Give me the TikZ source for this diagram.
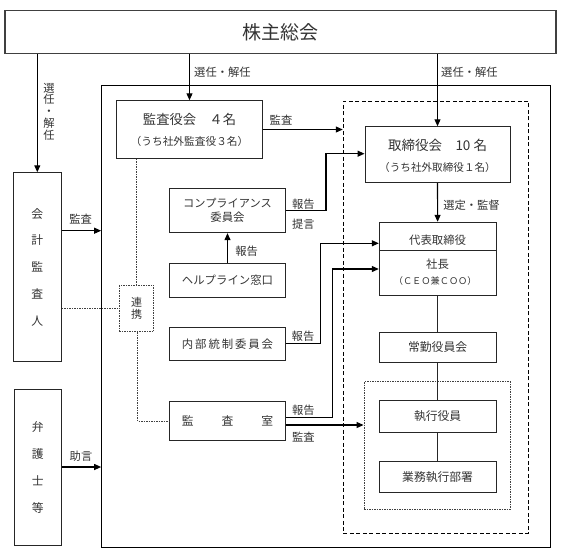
\documentclass[tikz,border=0pt]{standalone}
\usepackage{fontspec}
\setmainfont{Noto Sans CJK JP}
\usetikzlibrary{arrows.meta}
\begin{document}
\begin{tikzpicture}[x=1pt,y=-1pt,
  box/.style={draw=black!85, line width=0.9pt, inner sep=0pt, text=black!80},
  txt/.style={inner sep=0pt, text=black!80},
  lab/.style={inner sep=0pt, text=black!80, font=\fontsize{11.3}{12}\selectfont},
  arr/.style={draw=black, line width=1.1pt, -{Triangle[length=7pt,width=6pt]}},
  plain/.style={draw=black!85, line width=0.9pt},
  dashbox/.style={draw=black, line width=1.1pt, dash pattern=on 4pt off 2.5pt},
  dotline/.style={draw=black!75, line width=0.9pt, dash pattern=on 1.5pt off 1pt},
  f11/.style={font=\fontsize{11.4}{12}\selectfont},
  f12/.style={font=\fontsize{11.8}{12}\selectfont}]
\useasboundingbox (0,0) rectangle (561,549);

% boxes
\node[box, line width=1.5pt, draw=black!75, minimum width=551pt, minimum height=42.6pt,
  font=\fontsize{19}{20}\selectfont] (top) at (280.5,32) {株主総会};
\node[box, minimum width=48pt, minimum height=189pt, align=center,
  font=\fontsize{11.8}{26.8}\selectfont] (kaikei) at (37.3,267.2) {会\\計\\監\\査\\人};
\node[box, minimum width=47.3pt, minimum height=156pt, align=center,
  font=\fontsize{11.8}{27}\selectfont] (bengo) at (37.7,467) {弁\\護\\士\\等};
\node[box, line width=1.1pt, draw=black, minimum width=449pt, minimum height=461.6pt] (outer) at (326.2,316.5) {};
\node[box, minimum width=145.6pt, minimum height=57.6pt] (kansayaku) at (189.5,129.5) {};
\node[txt, font=\fontsize{13.3}{14}\selectfont] (kansayakuA) at (189.5,119.3) {監査役会　４名};
\node[txt, font=\fontsize{10.7}{12}\selectfont] (kansayakuB) at (189.5,141) {（うち社外監査役３名）};
\node[dashbox, inner sep=0pt, minimum width=185pt, minimum height=432.3pt] (dashed) at (435.8,317.2) {};
\node[box, minimum width=145pt, minimum height=56pt] (tori) at (437.5,154.7) {};
\node[txt, font=\fontsize{13.5}{14}\selectfont] (toriA) at (437.5,145) {取締役会　10 名};
\node[txt, font=\fontsize{10.6}{12}\selectfont] (toriB) at (437.5,167.3) {（うち社外取締役１名）};
\node[box, minimum width=116.4pt, minimum height=44.4pt] (comp) at (227.5,210.5) {};
\node[txt, font=\fontsize{11.2}{12}\selectfont] (compA) at (227.5,203.3) {コンプライアンス};
\node[txt, f11] (compB) at (227.5,217) {委員会};
\node[box, minimum width=116.4pt, minimum height=34pt, f11] (help) at (227.5,280.3) {ヘルプライン窓口};
\node[box, minimum width=116.4pt, minimum height=32.3pt, f11] (naibu) at (227.5,343.8) {内\,部\,統\,制\,委\,員\,会};
\node[box, minimum width=116.6pt, minimum height=39pt, f12] (shitsu) at (227.6,421.2) {監\hspace{28pt}査\hspace{28pt}室};
\node[box, minimum width=116.7pt, minimum height=72.7pt] (daihyo) at (437.6,258.6) {};
\node[txt, f11] (daihyoA) at (437.6,240.5) {代表取締役};
\node[txt, f11] (daihyoB) at (437.6,264.5) {社長};
\node[txt, font=\fontsize{9.2}{10}\selectfont] (daihyoC) at (435.2,281) {（ＣＥＯ兼ＣＯＯ）};
\coordinate (dv) at (0,250.7);
\draw[plain] (daihyo.west |- dv) -- (daihyo.east |- dv);
\node[box, minimum width=116.7pt, minimum height=30.4pt, f12] (jokin) at (437.6,347.5) {常勤役員会};
\node[dotline, inner sep=0pt, minimum width=146pt, minimum height=127.6pt] (inner) at (437,445.5) {};
\node[box, minimum width=116.7pt, minimum height=31.6pt, f12] (shikko) at (437.6,416.5) {執行役員};
\node[box, minimum width=116.7pt, minimum height=31pt, f12] (gyomu) at (437.6,477.2) {業務執行部署};
\node[dotline, inner sep=0pt, minimum width=34.4pt, minimum height=46.4pt, align=center,
  text=black!80, font=\fontsize{11}{11.8}\selectfont] (renkei) at (136.5,308.5) {連\\携};

% arrows from top
\draw[arr] (kaikei.north |- top.south) -- (kaikei.north);
\draw[arr] (kansayaku.north |- top.south) -- (kansayaku.north);
\draw[arr] (tori.north |- top.south) -- (tori.north);
\node[lab, align=center, font=\fontsize{11.3}{11.8}\selectfont] (l1) at (49,111.5) {選\\任\\・\\解\\任};
\node[lab, anchor=west] (l2) at (194,72) {選任・解任};
\node[lab, anchor=west] (l3) at (441,72) {選任・解任};

% kansayaku audit
\draw[arr] (kansayaku.east) -- (kansayaku.east -| dashed.west);
\node[lab] (l4) at (281,120) {監査};

% compliance
\coordinate (v1) at (326,153.7);
\draw[arr] (comp.east) -| (v1) -- (v1 -| tori.west);
\node[lab] (l5) at (303.3,204.3) {報告};
\node[lab] (l6) at (303.3,224.3) {提言};
\draw[arr] (help.north) -- (comp.south);
\node[lab] (l7) at (246.7,251) {報告};

% tori -> daihyo
\draw[arr] (tori.south) -- (daihyo.north);
\node[lab] (l8) at (471.5,205.7) {選定・監督};

% naibu
\coordinate (v2) at (320.7,243.3);
\draw[arr] (naibu.east) -| (v2) -- (v2 -| daihyo.west);
\node[lab] (l9) at (303,336.7) {報告};

% kansashitsu
\coordinate (v3) at (332.5,269);
\draw[arr] ([yshift=3.5pt]shitsu.east) -| (v3) -- (v3 -| daihyo.west);
\draw[arr] ([yshift=-3.8pt]shitsu.east) -- ([yshift=-3.8pt]shitsu.east -| inner.west);
\node[lab] (l10) at (303.3,410) {報告};
\node[lab] (l11) at (303.3,436.7) {監査};

% chain
\draw[plain] (daihyo.south) -- (jokin.north);
\draw[plain] (jokin.south) -- (shikko.north);
\draw[plain] (shikko.south) -- (gyomu.north);

% external
\coordinate (ka) at (0,230.7);
\draw[arr] (kaikei.east |- ka) -- (outer.west |- ka);
\node[lab] (l12) at (80.7,219.3) {監査};
\draw[arr] (bengo.east) -- (bengo.east -| outer.west);
\node[lab] (l13) at (81,456.7) {助言};

% dotted links
\draw[dotline] (renkei.north |- kansayaku.south) -- (renkei.north);
\draw[dotline] ([xshift=1.2pt]renkei.south) |- (shitsu.west);
\draw[dotline] (kaikei.east |- renkei.west) -- (renkei.west);
\end{tikzpicture}
\end{document}
